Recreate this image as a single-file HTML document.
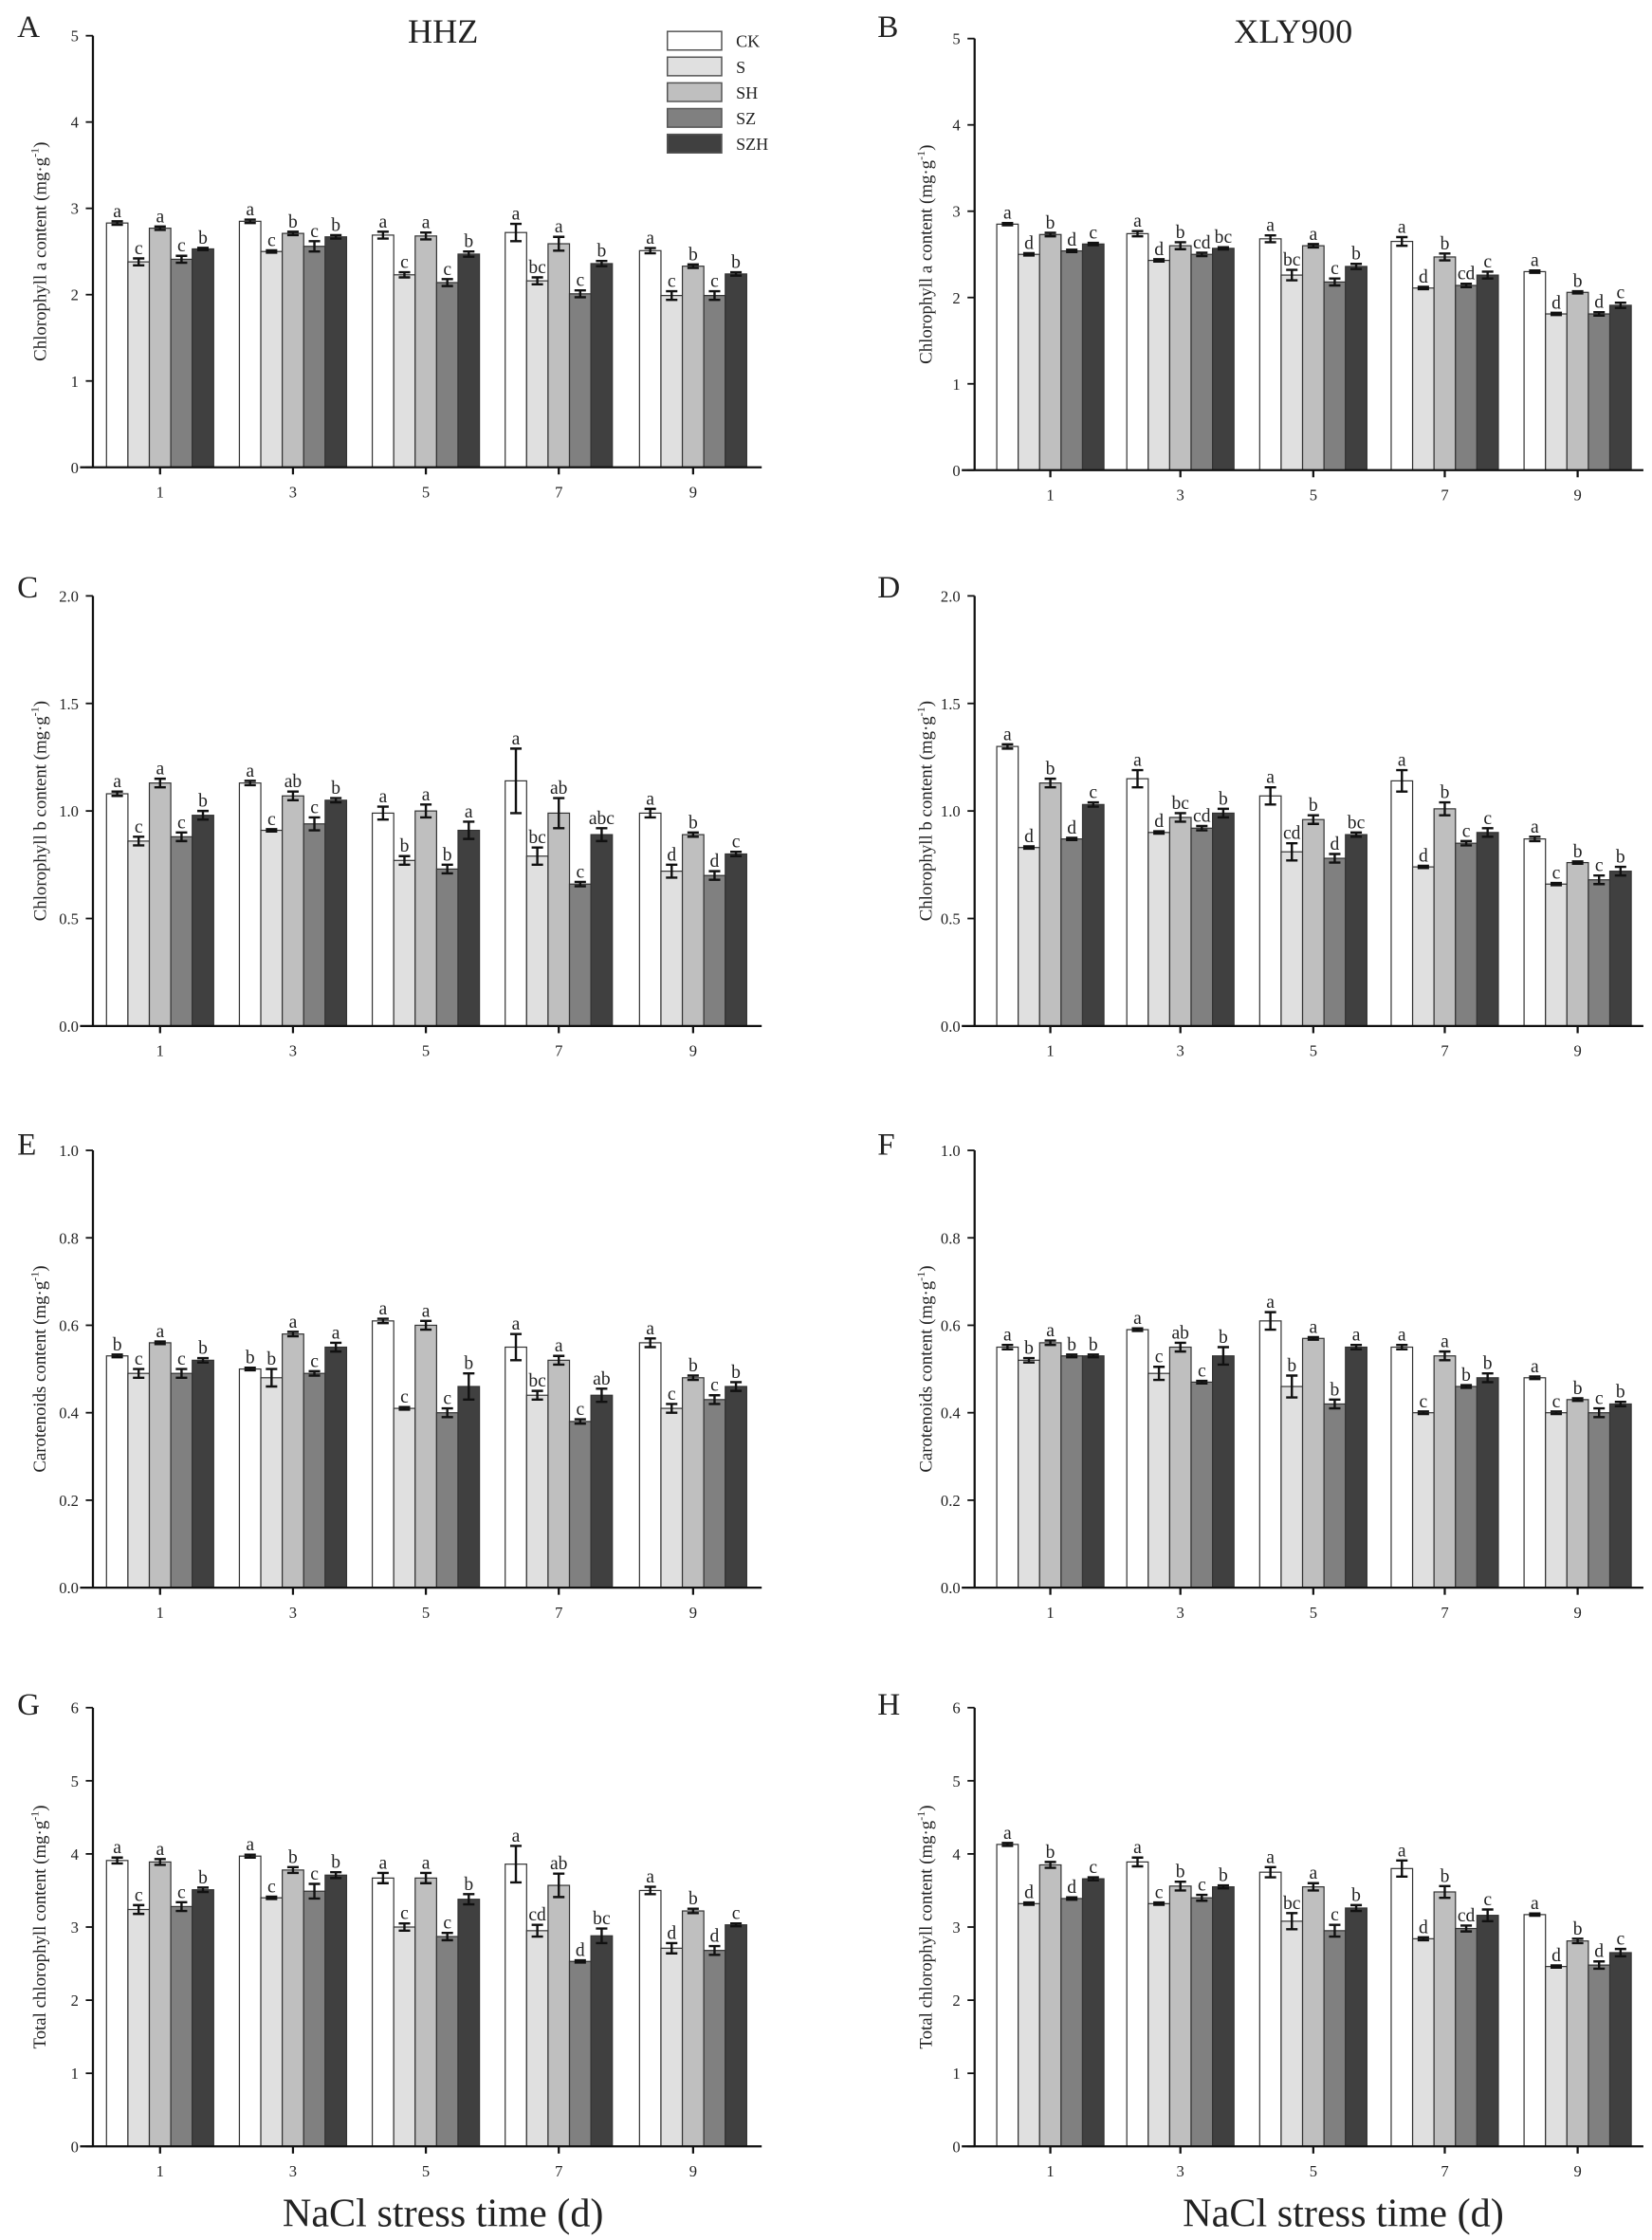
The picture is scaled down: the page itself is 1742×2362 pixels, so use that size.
<!DOCTYPE html>
<html><head><meta charset="utf-8"><style>
html,body{margin:0;padding:0;background:#fff}
svg{display:block}
text{font-family:"Liberation Serif",serif;fill:#222}
</style></head><body>
<svg id="s" width="1742" height="2362" viewBox="0 0 1156 1567.5" xmlns="http://www.w3.org/2000/svg">
<rect width="1156" height="1567.5" fill="#fff"/>
<text x="12" y="26" font-size="22">A</text>
<text x="614" y="26" font-size="22">B</text>
<text x="12" y="418" font-size="22">C</text>
<text x="614" y="418" font-size="22">D</text>
<text x="12" y="808" font-size="22">E</text>
<text x="614" y="808" font-size="22">F</text>
<text x="12" y="1200" font-size="22">G</text>
<text x="614" y="1200" font-size="22">H</text>
<text x="310" y="30" font-size="24" text-anchor="middle">HHZ</text>
<text x="905" y="30" font-size="24" text-anchor="middle">XLY900</text>
<text x="310" y="1558" font-size="28" text-anchor="middle">NaCl stress time (d)</text>
<text x="940" y="1558" font-size="28" text-anchor="middle">NaCl stress time (d)</text>
<g font-size="12">
<rect x="467" y="22" width="38" height="13" fill="#fff" stroke="#555"/><text x="515" y="33">CK</text>
<rect x="467" y="40" width="38" height="13" fill="#e0e0e0" stroke="#555"/><text x="515" y="51">S</text>
<rect x="467" y="58" width="38" height="13" fill="#bfbfbf" stroke="#555"/><text x="515" y="69">SH</text>
<rect x="467" y="76" width="38" height="13" fill="#808080" stroke="#555"/><text x="515" y="87">SZ</text>
<rect x="467" y="94" width="38" height="13" fill="#404040" stroke="#555"/><text x="515" y="105">SZH</text>
</g>
<g id="g"></g>
</svg>
<script>
var NS="http://www.w3.org/2000/svg",G=document.getElementById("g");
function el(t,a,txt){var e=document.createElementNS(NS,t);for(var k in a)e.setAttribute(k,a[k]);if(txt!=null)e.textContent=txt;G.appendChild(e);return e;}
var cols=["#ffffff","#e0e0e0","#bfbfbf","#808080","#404040"];
var P=[
{x0:65,top:25,zero:327,max:5,step:1,dec:0,off:[47,140,233,326,420],lab:"Chlorophyll a content (mg·g",lx:32,
d:[[[2.83,.02,"a"],[2.38,.04,"c"],[2.77,.02,"a"],[2.41,.04,"c"],[2.53,.01,"b"]],
[[2.85,.02,"a"],[2.50,.01,"c"],[2.71,.02,"b"],[2.56,.06,"c"],[2.67,.02,"b"]],
[[2.69,.04,"a"],[2.23,.03,"c"],[2.68,.04,"a"],[2.14,.04,"c"],[2.47,.03,"b"]],
[[2.72,.1,"a"],[2.16,.04,"bc"],[2.59,.08,"a"],[2.01,.04,"c"],[2.36,.03,"b"]],
[[2.51,.03,"a"],[1.99,.05,"c"],[2.33,.02,"b"],[1.99,.05,"c"],[2.24,.02,"b"]]]},
{x0:682,top:27,zero:329,max:5,step:1,dec:0,off:[53,144,237,329,422],lab:"Chlorophyll a content (mg·g",lx:652,
d:[[[2.85,.01,"a"],[2.50,.01,"d"],[2.73,.02,"b"],[2.54,.01,"d"],[2.62,.01,"c"]],
[[2.74,.03,"a"],[2.43,.01,"d"],[2.60,.04,"b"],[2.50,.02,"cd"],[2.57,.01,"bc"]],
[[2.68,.04,"a"],[2.26,.06,"bc"],[2.60,.02,"a"],[2.18,.04,"c"],[2.36,.03,"b"]],
[[2.65,.05,"a"],[2.11,.01,"d"],[2.47,.04,"b"],[2.14,.02,"cd"],[2.26,.04,"c"]],
[[2.30,.01,"a"],[1.81,.01,"d"],[2.06,.01,"b"],[1.81,.02,"d"],[1.91,.03,"c"]]]},
{x0:65,top:417,zero:718,max:2,step:.5,dec:1,off:[47,140,233,326,420],lab:"Chlorophyll b content (mg·g",lx:32,
d:[[[1.08,.01,"a"],[0.86,.02,"c"],[1.13,.02,"a"],[0.88,.02,"c"],[0.98,.02,"b"]],
[[1.13,.01,"a"],[0.91,.005,"c"],[1.07,.02,"ab"],[0.94,.03,"c"],[1.05,.01,"b"]],
[[0.99,.03,"a"],[0.77,.02,"b"],[1.00,.03,"a"],[0.73,.02,"b"],[0.91,.04,"a"]],
[[1.14,.15,"a"],[0.79,.04,"bc"],[0.99,.07,"ab"],[0.66,.01,"c"],[0.89,.03,"abc"]],
[[0.99,.02,"a"],[0.72,.03,"d"],[0.89,.01,"b"],[0.70,.02,"d"],[0.80,.01,"c"]]]},
{x0:682,top:417,zero:718,max:2,step:.5,dec:1,off:[53,144,237,329,422],lab:"Chlorophyll b content (mg·g",lx:652,
d:[[[1.30,.01,"a"],[0.83,.005,"d"],[1.13,.02,"b"],[0.87,.005,"d"],[1.03,.01,"c"]],
[[1.15,.04,"a"],[0.90,.005,"d"],[0.97,.02,"bc"],[0.92,.01,"cd"],[0.99,.02,"b"]],
[[1.07,.04,"a"],[0.81,.04,"cd"],[0.96,.02,"b"],[0.78,.02,"d"],[0.89,.01,"bc"]],
[[1.14,.05,"a"],[0.74,.005,"d"],[1.01,.03,"b"],[0.85,.01,"c"],[0.90,.02,"c"]],
[[0.87,.01,"a"],[0.66,.005,"c"],[0.76,.005,"b"],[0.68,.02,"c"],[0.72,.02,"b"]]]},
{x0:65,top:805,zero:1111,max:1,step:.2,dec:1,off:[47,140,233,326,420],lab:"Carotenoids content (mg·g",lx:32,
d:[[[0.53,.003,"b"],[0.49,.01,"c"],[0.56,.003,"a"],[0.49,.01,"c"],[0.52,.005,"b"]],
[[0.50,.003,"b"],[0.48,.02,"b"],[0.58,.005,"a"],[0.49,.005,"c"],[0.55,.01,"a"]],
[[0.61,.005,"a"],[0.41,.003,"c"],[0.60,.01,"a"],[0.40,.01,"c"],[0.46,.03,"b"]],
[[0.55,.03,"a"],[0.44,.01,"bc"],[0.52,.01,"a"],[0.38,.005,"c"],[0.44,.015,"ab"]],
[[0.56,.01,"a"],[0.41,.01,"c"],[0.48,.005,"b"],[0.43,.01,"c"],[0.46,.01,"b"]]]},
{x0:682,top:805,zero:1111,max:1,step:.2,dec:1,off:[53,144,237,329,422],lab:"Carotenoids content (mg·g",lx:652,
d:[[[0.55,.005,"a"],[0.52,.005,"b"],[0.56,.005,"a"],[0.53,.003,"b"],[0.53,.003,"b"]],
[[0.59,.003,"a"],[0.49,.015,"c"],[0.55,.01,"ab"],[0.47,.003,"c"],[0.53,.02,"b"]],
[[0.61,.02,"a"],[0.46,.025,"b"],[0.57,.003,"a"],[0.42,.01,"b"],[0.55,.005,"a"]],
[[0.55,.005,"a"],[0.40,.003,"c"],[0.53,.01,"a"],[0.46,.003,"b"],[0.48,.01,"b"]],
[[0.48,.003,"a"],[0.40,.003,"c"],[0.43,.003,"b"],[0.40,.01,"c"],[0.42,.005,"b"]]]},
{x0:65,top:1195,zero:1502,max:6,step:1,dec:0,off:[47,140,233,326,420],lab:"Total chlorophyll content (mg·g",lx:32,
d:[[[3.91,.04,"a"],[3.24,.06,"c"],[3.89,.04,"a"],[3.28,.06,"c"],[3.51,.03,"b"]],
[[3.97,.02,"a"],[3.40,.01,"c"],[3.78,.04,"b"],[3.49,.1,"c"],[3.71,.04,"b"]],
[[3.67,.07,"a"],[3.00,.05,"c"],[3.67,.07,"a"],[2.87,.05,"c"],[3.38,.07,"b"]],
[[3.86,.25,"a"],[2.95,.08,"cd"],[3.57,.16,"ab"],[2.53,.01,"d"],[2.88,.1,"bc"]],
[[3.50,.05,"a"],[2.71,.07,"d"],[3.22,.03,"b"],[2.68,.06,"d"],[3.03,.02,"c"]]]},
{x0:682,top:1195,zero:1502,max:6,step:1,dec:0,off:[53,144,237,329,422],lab:"Total chlorophyll content (mg·g",lx:652,
d:[[[4.13,.02,"a"],[3.32,.01,"d"],[3.85,.04,"b"],[3.39,.01,"d"],[3.66,.02,"c"]],
[[3.89,.06,"a"],[3.32,.01,"c"],[3.56,.06,"b"],[3.40,.04,"c"],[3.55,.02,"b"]],
[[3.75,.07,"a"],[3.08,.11,"bc"],[3.55,.05,"a"],[2.95,.08,"c"],[3.26,.04,"b"]],
[[3.80,.11,"a"],[2.84,.02,"d"],[3.48,.08,"b"],[2.98,.04,"cd"],[3.16,.08,"c"]],
[[3.17,.01,"a"],[2.46,.01,"d"],[2.81,.03,"b"],[2.48,.05,"d"],[2.65,.05,"c"]]]}
];
var xl=["1","3","5","7","9"];
P.forEach(function(p){
  var H=p.zero-p.top;function Y(v){return p.zero-v/p.max*H;}
  var bw=15;
  p.d.forEach(function(g,gi){
    var cx=p.x0+p.off[gi],sx=cx-37.5;
    g.forEach(function(b,bi){
      var x=sx+bi*bw,y=Y(b[0]);
      el("rect",{x:x,y:y,width:bw,height:p.zero-y,fill:cols[bi],stroke:"#333","stroke-width":0.8});
      var e=Math.max(b[1]/p.max*H,0.8),m=x+bw/2;
      el("path",{d:"M"+m+" "+(y-e)+"V"+(y+e)+"M"+(m-4)+" "+(y-e)+"h8M"+(m-4)+" "+(y+e)+"h8",stroke:"#111","stroke-width":1.6,fill:"none"});
      el("text",{x:m,y:y-e-3,"font-size":13,"text-anchor":"middle"},b[2]);
    });
    el("line",{x1:cx,x2:cx,y1:p.zero,y2:p.zero+5,stroke:"#111","stroke-width":1.5});
    el("text",{x:cx,y:p.zero+21,"font-size":11,"text-anchor":"middle"},xl[gi]);
  });
  el("line",{x1:p.x0,x2:p.x0,y1:p.top,y2:p.zero,stroke:"#111","stroke-width":1.5});
  el("line",{x1:p.x0-9,x2:p.x0+468,y1:p.zero,y2:p.zero,stroke:"#111","stroke-width":1.5});
  for(var v=0;v<=p.max+1e-9;v+=p.step){
    var y=Y(v);
    el("line",{x1:p.x0-5,x2:p.x0,y1:y,y2:y,stroke:"#111","stroke-width":1.2});
    el("text",{x:p.x0-10,y:y+4,"font-size":11,"text-anchor":"end"},v.toFixed(p.dec));
  }
  var my=(p.top+p.zero)/2;
  var t=el("text",{x:p.lx,y:my,"font-size":12.5,"text-anchor":"middle",transform:"rotate(-90 "+p.lx+" "+my+")"},null);
  t.appendChild(document.createTextNode(p.lab));
  var s=document.createElementNS(NS,"tspan");s.setAttribute("dy","-5");s.setAttribute("font-size","8");s.textContent="-1";t.appendChild(s);
  var s2=document.createElementNS(NS,"tspan");s2.setAttribute("dy","5");s2.textContent=")";t.appendChild(s2);
});
</script>
</body></html>
